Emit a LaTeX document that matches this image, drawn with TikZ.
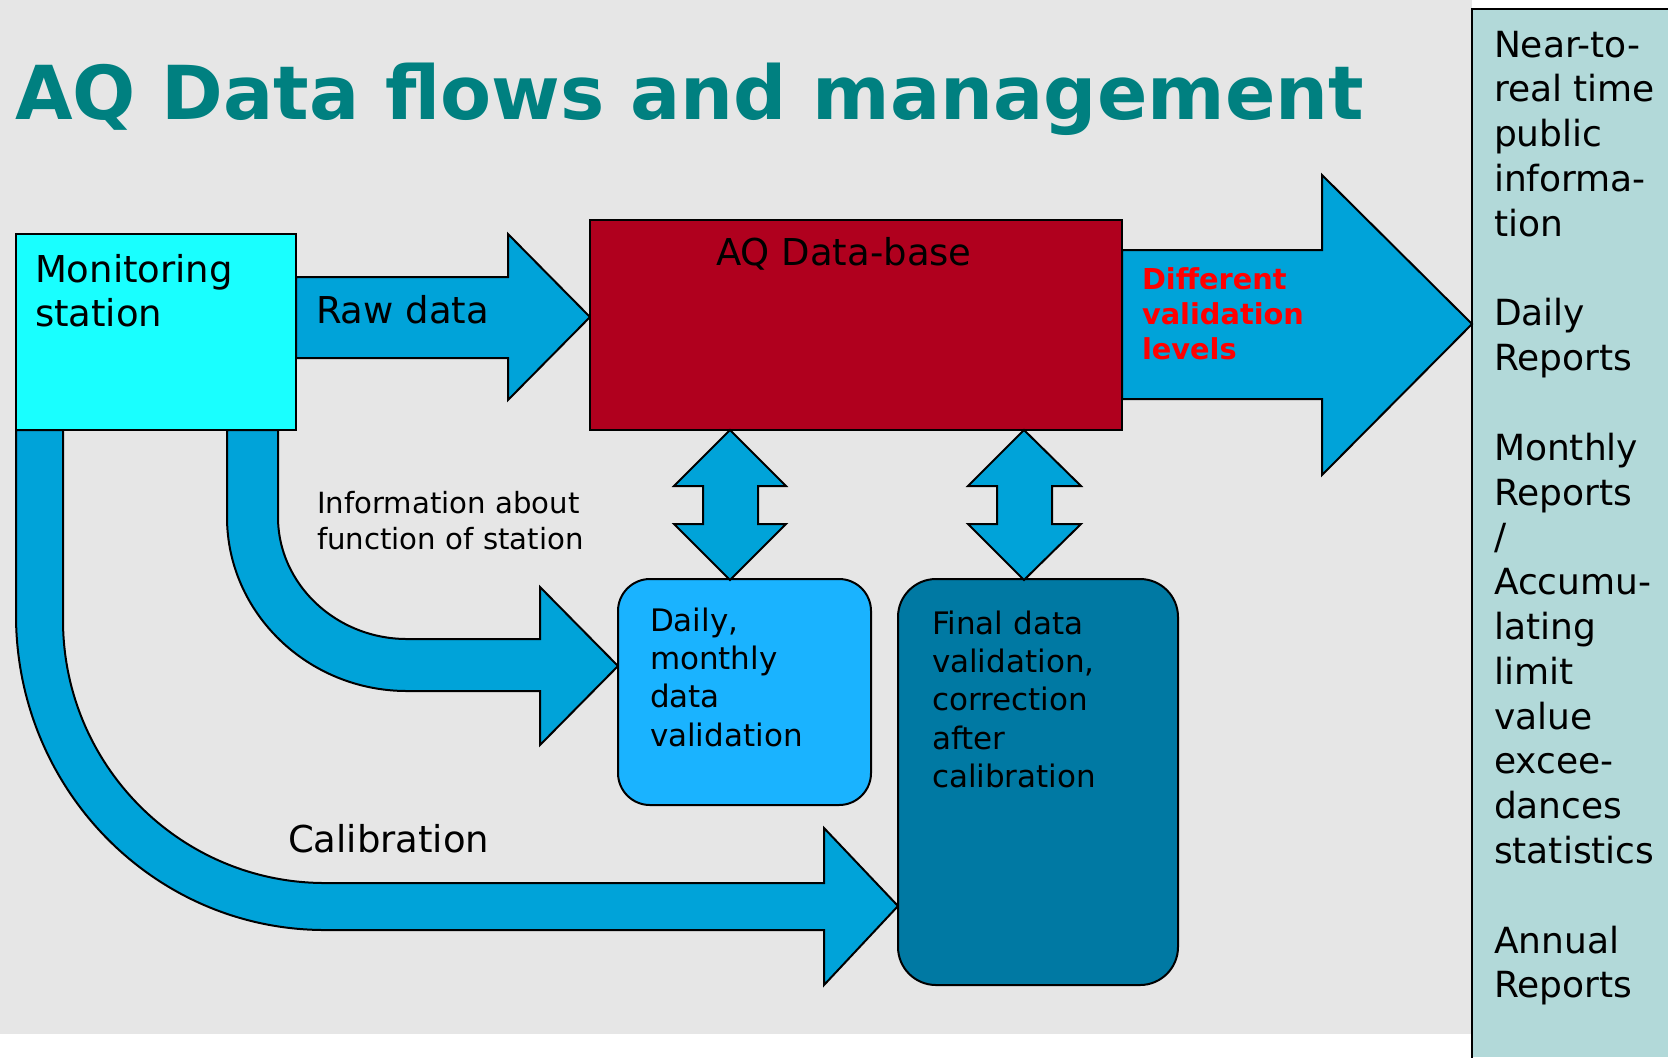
\documentclass[tikz,border=0pt]{standalone}
\usepackage{fontspec}
\setmainfont{DejaVu Sans}
\newcommand\mlines[1]{\begin{tabular}[t]{@{}l@{}}#1\end{tabular}}
\definecolor{bggray}{HTML}{E6E6E6}
\definecolor{titleteal}{HTML}{008080}
\definecolor{arrowblue}{HTML}{00A3D9}
\definecolor{stationcyan}{HTML}{19FFFF}
\definecolor{dbred}{HTML}{B0001E}
\definecolor{dvblue}{HTML}{1AB3FF}
\definecolor{fvblue}{HTML}{0079A3}
\definecolor{panelteal}{HTML}{B2D9D9}
\definecolor{redtext}{HTML}{FF0000}
\begin{document}
\begin{tikzpicture}[x=0.5pt,y=-0.5pt,line width=1pt,
  blockarrow/.style={fill=arrowblue,draw=black,line join=miter},
  box/.style={draw=black,inner sep=0pt,outer sep=0pt},
  txt/.style={inner sep=0pt,outer sep=0pt,anchor=base west,text=black},
  bigtxt/.style={txt,font=\fontsize{18.5}{22}\selectfont},
  midtxt/.style={txt,font=\fontsize{15.5}{19.2}\selectfont},
  smalltxt/.style={txt,font=\fontsize{14.6}{18}\selectfont}]
\useasboundingbox (0,0) rectangle (1668,1057);
% background
\fill[white] (0,0) rectangle (1668,1057);
\fill[bggray] (0,0) rectangle (1472,1034);
% right panel
\fill[panelteal] (1472,9) rectangle (1668,1057);
\draw (1472,1060) -- (1472,9) -- (1670,9);
\node[txt,font=\fontsize{18}{22.4}\selectfont] (panel) at (1494,57)
  {\mlines{Near-to-\\real time\\public\\informa-\\tion\\ \\Daily\\Reports\\ \\Monthly\\Reports\\/\\Accumu-\\lating\\limit\\value\\excee-\\dances\\statistics\\ \\Annual\\Reports}};
% title
\node[txt,font=\fontsize{37.2}{44}\selectfont\bfseries,text=titleteal] (title) at (15,119)
  {AQ Data flows and management};
% streams from the station
\draw[blockarrow] (227,430) -- (227,517) .. controls (227,613) and (308,691) .. (407,691)
  -- (540,691) -- (540,745) -- (618,666) -- (540,587) -- (540,639) -- (407,639)
  .. controls (336,639) and (278,584) .. (278,517) -- (278,430) -- cycle;
\draw[blockarrow] (16,430) -- (16,615) .. controls (16,789) and (154,930) .. (325,930)
  -- (824,930) -- (824,985) -- (898,906) -- (824,828) -- (824,883) -- (325,883)
  .. controls (180,883) and (63,765) .. (63,620) -- (63,430) -- cycle;
% raw data arrow
\draw[blockarrow] (296,277) -- (508,277) -- (508,234) -- (590,317) -- (508,400) -- (508,358) -- (296,358) -- cycle;
% validation levels arrow
\draw[blockarrow] (1122,250) -- (1322,250) -- (1322,175) -- (1472,324) -- (1322,475) -- (1322,399) -- (1122,399) -- cycle;
% boxes
\node[box,fill=stationcyan,minimum width=140pt,minimum height=98pt] (ms) at (156,332) {};
\node[box,fill=dbred,minimum width=266pt,minimum height=105pt] (db) at (856,325) {};
\node[box,fill=dvblue,rounded corners=16pt,minimum width=126.5pt,minimum height=113pt] (dv) at (744.5,692) {};
\node[box,fill=fvblue,rounded corners=19pt,minimum width=140pt,minimum height=203pt] (fv) at (1038,782) {};
% double arrows
\draw[blockarrow] (730,430) -- (786,486) -- (758,486) -- (758,524) -- (786,524) -- (730,580)
  -- (674,524) -- (703,524) -- (703,486) -- (674,486) -- cycle;
\draw[blockarrow] (1024,430) -- (1081,486) -- (1052,486) -- (1052,524) -- (1081,524) -- (1024,580)
  -- (968,524) -- (997,524) -- (997,486) -- (968,486) -- cycle;
% texts
\node[bigtxt] (mstxt) at (35,282) {\mlines{Monitoring\\station}};
\node[bigtxt] (rawtxt) at (316,323) {Raw data};
\node[bigtxt,anchor=base] (dbtxt) at (844,265) {AQ Data-base};
\node[bigtxt] (caltxt) at (288,852) {Calibration};
\node[smalltxt] (infotxt) at (317,513) {\mlines{Information about\\function of station}};
\node[txt,font=\fontsize{14.4}{17.5}\selectfont\bfseries,text=redtext] (levtxt) at (1142,289)
  {\mlines{Different\\validation\\levels}};
\node[midtxt] (dvtxt) at (650,631) {\mlines{Daily,\\monthly\\data\\validation}};
\node[midtxt] (fvtxt) at (932,634) {\mlines{Final data\\validation,\\correction\\after\\calibration}};
\end{tikzpicture}
\end{document}
